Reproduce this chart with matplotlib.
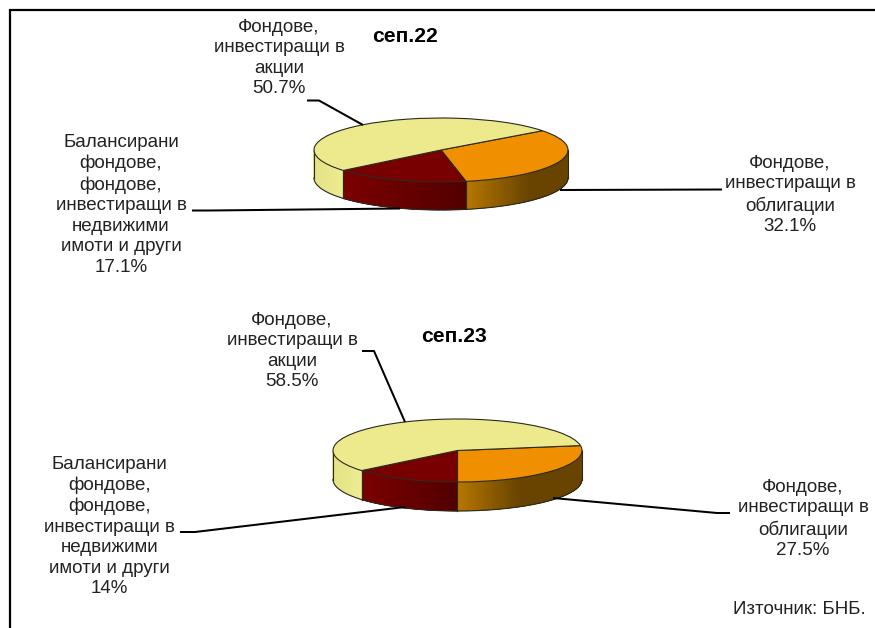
import numpy as np
import matplotlib
matplotlib.use("Agg")
import matplotlib.pyplot as plt
from matplotlib.collections import PolyCollection
from matplotlib.colors import to_rgb

plt.rcParams["font.family"] = ["Liberation Sans", "DejaVu Sans"]

W, H = 875, 628

# slice order follows the pie clockwise from the start angle
label_bonds = "Фондове,\nинвестиращи в\nоблигации"
label_balanced = "Балансирани\nфондове,\nфондове,\nинвестиращи в\nнедвижими\nимоти и други"
label_equity = "Фондове,\nинвестиращи в\nакции"
categories = [label_bonds, label_balanced, label_equity]

title_22 = "сеп.22"
title_23 = "сеп.23"
values_22 = [32.1, 17.1, 50.7]
values_23 = [27.5, 14, 58.5]
source_text = "Източник: БНБ."

top_colors = ["#f09000", "#780000", "#ecea8c"]
# left and right colour of the shaded side wall, plus how far (in radii) the shade runs
wall_shades = [("#b87800", "#684400", 0.5), ("#7c0000", "#520000", None), ("#e4e286", "#eeec90", None)]
EDGE = "#2a2a20"
TEXT = "#222222"
LINE_W = 1.45
FONT = 13.5
TITLE_FONT = 15.2
LINE_GAP = 1.27


def draw_walls(ax, wedges, depth):
    for wedge, (left, right, run) in zip(wedges, wall_shades):
        t = np.radians(np.linspace(wedge.theta1, wedge.theta2, 800))
        t = t[np.sin(t) <= 0.0]
        if len(t) < 2:
            continue
        xs, ys = np.cos(t), np.sin(t)
        span = run if run else max(xs.max() - xs.min(), 1e-6)
        quads, colors = [], []
        c0, c1 = np.array(to_rgb(left)), np.array(to_rgb(right))
        for i in range(len(t) - 1):
            quads.append([(xs[i], ys[i]), (xs[i + 1], ys[i + 1]), (xs[i + 1], ys[i + 1] - depth), (xs[i], ys[i] - depth)])
            f = min((0.5 * (xs[i] + xs[i + 1]) - xs.min()) / span, 1.0)
            colors.append(c0 + (c1 - c0) * f)
        ax.add_collection(PolyCollection(quads, facecolors=colors, edgecolors="face", linewidths=0.3, zorder=0.5))
        ax.plot(xs, ys - depth, color=EDGE, lw=0.8, zorder=0.7)
        # vertical seams at the ends of the visible arc
        for k in (0, -1):
            ax.plot([xs[k], xs[k]], [ys[k], ys[k] - depth], color=EDGE, lw=0.8, zorder=0.7)


def draw_pie(fig, values, start, cx, cy, rx, ry, depth_px):
    pad = 4
    left = cx - rx - pad
    top = cy - ry - pad
    width = 2 * rx + 2 * pad
    height = 2 * ry + depth_px + 2 * pad
    ax = fig.add_axes([left / W, 1 - (top + height) / H, width / W, height / H], zorder=1)
    ax.patch.set_alpha(0)
    wedges, _ = ax.pie(values, startangle=start, counterclock=False, colors=top_colors,
                       wedgeprops={"edgecolor": EDGE, "linewidth": 0.8})
    ax.set_aspect("auto")
    ax.set_xlim(-(rx + pad) / rx, (rx + pad) / rx)
    ax.set_ylim(-(ry + depth_px + pad) / ry, (ry + pad) / ry)
    draw_walls(ax, wedges, depth_px / ry)


def add_labels(ax, values, positions):
    for name, value, (x, y) in zip(categories, values, positions):
        ax.text(x, y, f"{name}\n{value:g}%", ha="center", va="center", color=TEXT,
                fontsize=FONT, linespacing=LINE_GAP)


def main():
    fig = plt.figure(figsize=(W / 100, H / 100), dpi=100, facecolor="white")

    draw_pie(fig, values_22, 37, 441, 150, 127, 32, 28)
    draw_pie(fig, values_23, 9, 457.5, 450.5, 124.5, 31.5, 29)

    over = fig.add_axes([0, 0, 1, 1], zorder=2)
    over.set_xlim(0, W)
    over.set_ylim(H, 0)
    over.axis("off")
    over.patch.set_alpha(0)

    # frame: only top and left are inside the crop
    over.plot([10, 10, W], [H, 10, 10], color="black", lw=1.6, solid_joinstyle="miter", clip_on=False)

    leaders = [
        ([307, 319, 363], [100.5, 100.5, 125]),
        ([192, 210, 400], [210.5, 210.5, 208.5]),
        ([560, 722], [190, 189.5]),
        ([362, 374, 405], [351, 351, 422]),
        ([180, 195, 405], [532, 532, 507]),
        ([553, 717, 730], [498, 513, 513]),
    ]
    for xs, ys in leaders:
        over.plot(xs, ys, color="black", lw=LINE_W, solid_capstyle="butt")

    add_labels(over, values_22, [(790, 195), (121, 205), (279, 58)])
    add_labels(over, values_23, [(803, 519), (109.5, 526.5), (292, 351)])

    over.text(405, 36, title_22, ha="center", va="center", fontsize=TITLE_FONT, fontweight="bold", color="black")
    over.text(454, 336, title_23, ha="center", va="center", fontsize=TITLE_FONT, fontweight="bold", color="black")
    over.text(866, 610, source_text, ha="right", va="center", fontsize=FONT, color=TEXT)

    fig.savefig("out.png", dpi=100)


if __name__ == "__main__":
    main()
